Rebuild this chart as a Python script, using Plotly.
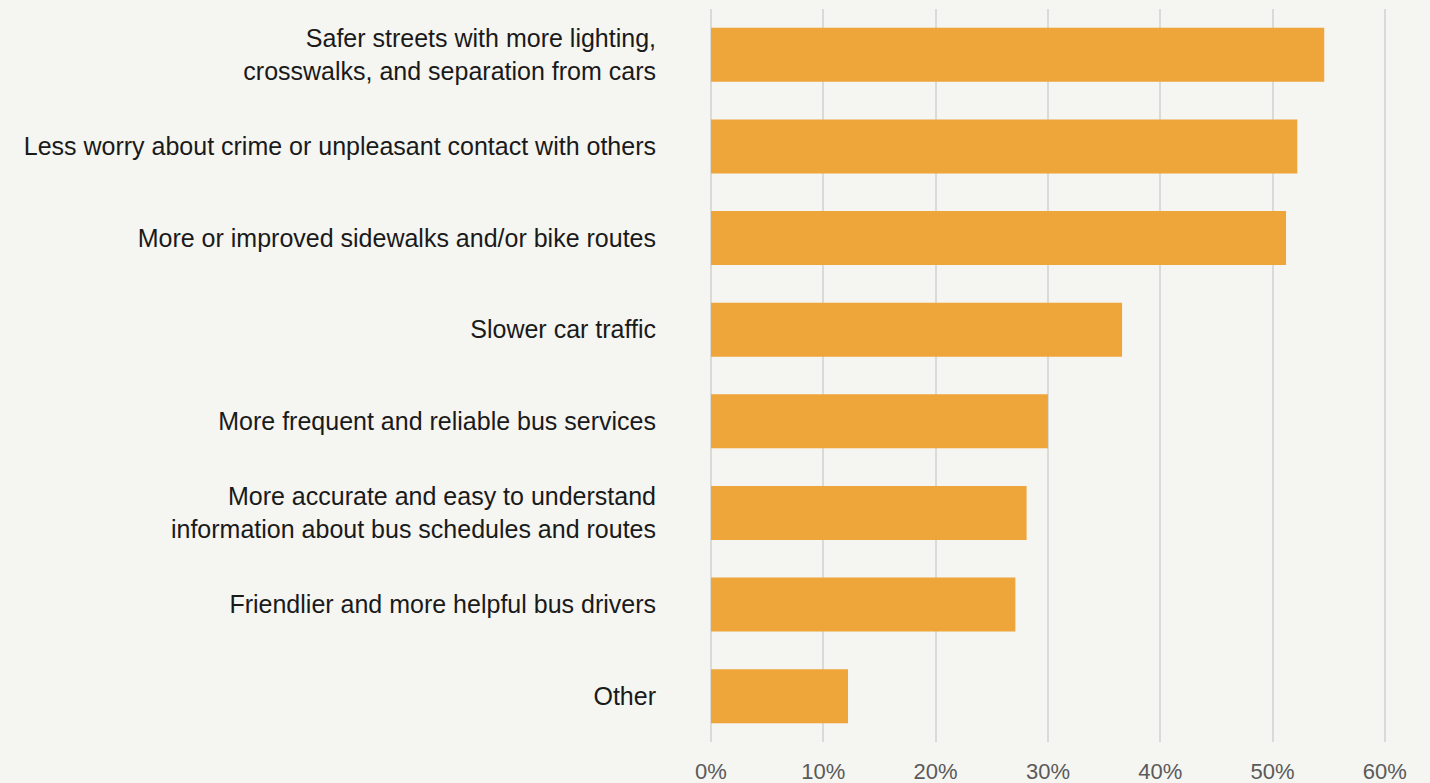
import plotly.graph_objects as go

# survey categories (top to bottom) and share of respondents
categories = [
    "Safer streets with more lighting,<br>crosswalks, and separation from cars",
    "Less worry about crime or unpleasant contact with others",
    "More or improved sidewalks and/or bike routes",
    "Slower car traffic",
    "More frequent and reliable bus services",
    "More accurate and easy to understand<br>information about bus schedules and routes",
    "Friendlier and more helpful bus drivers",
    "Other",
]
shares = [0.546, 0.522, 0.512, 0.366, 0.300, 0.281, 0.271, 0.122]

tick_vals = [0, 0.1, 0.2, 0.3, 0.4, 0.5, 0.6]
tick_text = ["0%", "10%", "20%", "30%", "40%", "50%", "60%"]

bg = "#F5F5F1"
grid = "#DADADA"

fig = go.Figure()
fig.add_trace(go.Bar(
    x=shares,
    y=categories,
    orientation="h",
    marker=dict(color="#EEA53A", line=dict(width=0)),
    hoverinfo="x+y",
))

fig.update_layout(
    width=1430,
    height=783,
    paper_bgcolor=bg,
    plot_bgcolor=bg,
    margin=dict(l=711, r=44, t=9, b=41),
    bargap=0.41,
    showlegend=False,
    font=dict(family="Liberation Sans, Arial, sans-serif"),
)
fig.update_xaxes(
    range=[0, 0.601],
    tickvals=tick_vals,
    ticktext=tick_text,
    showgrid=True,
    gridcolor=grid,
    gridwidth=2,
    zeroline=True,
    zerolinecolor=grid,
    zerolinewidth=2,
    showline=False,
    tickfont=dict(size=22, color="#5A5A5A"),
    ticklabelstandoff=14,
    automargin=False,
)
fig.update_yaxes(
    autorange="reversed",
    showgrid=False,
    showline=False,
    tickfont=dict(size=25, color="#1A1A1A"),
    ticklabelstandoff=54,
    automargin=False,
)

# drop the page's default body margin so the figure fills the window
fig.write_html(
    "out.html",
    config={"displayModeBar": False},
    post_script="document.body.style.margin='0px';"
                "document.body.style.background='" + bg + "';",
)
